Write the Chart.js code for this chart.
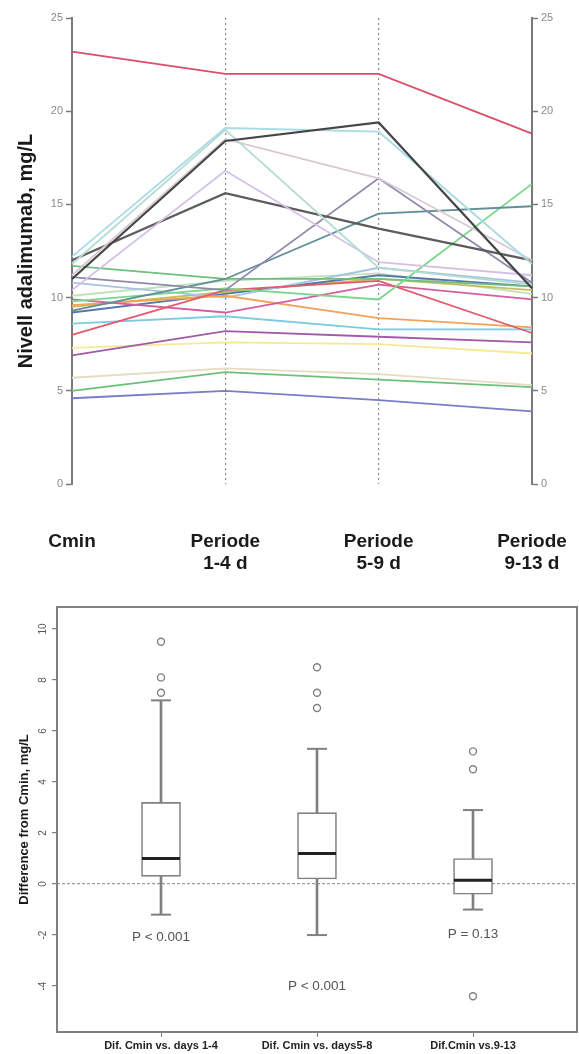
<!DOCTYPE html>
<html>
<head>
<meta charset="utf-8">
<script src="https://cdn.jsdelivr.net/npm/chart.js@4.4.1/dist/chart.umd.min.js"></script>
<style>
  body { margin: 0; background: #fff; }
  #wrap { position: relative; width: 579px; height: 1054px; }
  canvas { position: absolute; left: 0; }
  #levelChart { top: 0; }
  #diffChart { top: 590px; }
</style>
</head>
<body>
<div id="wrap">
  <canvas id="levelChart" width="579" height="590"></canvas>
  <canvas id="diffChart" width="579" height="464"></canvas>
</div>
<script>
// Top panel: adalimumab level per patient at Cmin and the three periods
const periods = [['Cmin'], ['Periode', '1-4 d'], ['Periode', '5-9 d'], ['Periode', '9-13 d']];
const patientLevels = [
    [23.2, 22.0, 22.0, 18.8],
    [11.0, 18.4, 19.4, 10.5],
    [12.2, 19.1, 18.9, 11.8],
    [11.8, 19.0, 11.6, 10.7],
    [11.2, 18.5, 16.4, 12.0],
    [10.4, 16.8, 11.9, 11.2],
    [12.0, 15.6, 13.7, 12.0],
    [11.1, 10.4, 16.4, 10.8],
    [9.3, 11.0, 14.5, 14.9],
    [9.8, 10.5, 9.9, 16.1],
    [11.7, 11.0, 11.0, 10.6],
    [8.0, 10.4, 10.9, 8.1],
    [9.9, 9.2, 10.7, 9.9],
    [9.6, 10.1, 8.9, 8.4],
    [8.6, 9.0, 8.3, 8.3],
    [6.9, 8.2, 7.9, 7.6],
    [7.3, 7.6, 7.5, 7.0],
    [5.7, 6.2, 5.9, 5.3],
    [5.0, 6.0, 5.6, 5.2],
    [4.6, 5.0, 4.5, 3.9],
    [10.8, 10.0, 11.6, 10.8],
    [9.2, 10.2, 11.2, 10.6],
    [9.5, 10.3, 11.0, 10.4],
    [10.1, 10.9, 11.3, 10.2]
];
const patientColors = ['#d94f68', '#454545', '#a9dbe6', '#b4dcd2', '#d8c8d4', '#d4bfe6',
    '#5b5b5b', '#8e89ab', '#5f8f98', '#79d68a', '#6fbf7d', '#e25a6c', '#d65d9e', '#f2a35a',
    '#7ccbe0', '#a15ba6', '#f3ea94', '#e6dcc2', '#6dc07c', '#7b7cc7', '#a8c2e2', '#5576ad',
    '#c9bd5a', '#bfe3b7'];

// Bottom panel: difference from Cmin (box plots)
const diffCategories = ['Dif. Cmin vs. days 1-4', 'Dif. Cmin vs. days5-8', 'Dif.Cmin vs.9-13'];
const q1 = [0.3, 0.2, -0.4];
const medians = [1.0, 1.2, 0.15];
const q3 = [3.2, 2.8, 1.0];
const whiskerLow = [-1.2, -2.0, -1.0];
const whiskerHigh = [7.2, 5.3, 2.9];
const outliers = [[9.5, 8.1, 7.5], [8.5, 7.5, 6.9], [5.2, 4.5, -4.4]];
const pLabels = ['P < 0.001', 'P < 0.001', 'P = 0.13'];
const pLabelY = [-2.1, -4.0, -1.95];

const axisGrey = '#7a7a7a';
const boxGrey = '#808080';

// keep edge tick labels from shrinking the plot area
const noSidePadding = s => { s.paddingLeft = 0; s.paddingRight = 0; };

// ---------- top chart ----------
const levelAxis = (pos, width) => ({
    position: pos,
    min: 0,
    max: 25,
    ticks: { stepSize: 5, color: '#8a8a8a', font: { family: 'Liberation Sans', size: 11 }, padding: 3 },
    grid: { drawOnChartArea: false, tickLength: 6, tickColor: axisGrey, tickWidth: 1.5 },
    border: { color: axisGrey, width: 2 },
    afterFit: s => { s.width = width; }
});

const yLeft = levelAxis('left', 72);
yLeft.title = {
    display: true,
    text: 'Nivell adalimumab, mg/L',
    color: '#1a1a1a',
    font: { family: 'Liberation Sans', size: 20, weight: 'bold' },
    padding: { top: 14, bottom: 0 }
};

new Chart(document.getElementById('levelChart'), {
    type: 'line',
    data: {
        labels: periods,
        datasets: patientLevels.map((vals, i) => ({
            data: vals,
            borderColor: patientColors[i],
            borderWidth: (i === 1 || i === 6) ? 2.2 : 1.8,
            pointRadius: 0,
            tension: 0,
            yAxisID: 'y'
        }))
    },
    options: {
        responsive: false,
        animation: false,
        events: [],
        layout: { padding: { top: 18 }, autoPadding: false },
        plugins: { legend: { display: false }, tooltip: { enabled: false } },
        scales: {
            x: {
                grid: {
                    color: c => (c.index === 1 || c.index === 2) ? '#8c8c8c' : 'transparent',
                    lineWidth: 1.2,
                    drawTicks: false
                },
                border: { display: false, dash: [2, 3] },
                ticks: {
                    color: '#1a1a1a',
                    font: { family: 'Liberation Sans', size: 19, weight: 'bold' },
                    padding: 46,
                    maxRotation: 0,
                    autoSkip: false
                },
                afterFit: s => { s.height = 106; noSidePadding(s); }
            },
            y: yLeft,
            y2: levelAxis('right', 47)
        }
    }
});

// ---------- bottom chart ----------
const boxData = q1.map((v, i) => ({ x: i + 1, y: [v, q3[i]] }));
const whiskerData = [];
const capData = [];
const outlierData = [];
whiskerLow.forEach((v, i) => {
    whiskerData.push({ x: i + 1, y: [q3[i], whiskerHigh[i]] });
    whiskerData.push({ x: i + 1, y: [v, q1[i]] });
    capData.push({ x: i + 1, y: whiskerHigh[i] });
    capData.push({ x: i + 1, y: v });
});
outliers.forEach((list, i) => list.forEach(v => outlierData.push({ x: i + 1, y: v })));
const medianData = medians.map((v, i) => ({ x: i + 1, y: v }));

const frameAndLabels = {
    id: 'frameAndLabels',
    afterDatasetsDraw(chart) {
        const { ctx, chartArea: a, scales } = chart;
        ctx.save();
        ctx.strokeStyle = boxGrey;
        ctx.lineWidth = 2;
        ctx.strokeRect(a.left, a.top, a.right - a.left, a.bottom - a.top);
        ctx.font = '13.5px "Liberation Sans"';
        ctx.fillStyle = '#555';
        ctx.textAlign = 'center';
        ctx.textBaseline = 'middle';
        pLabels.forEach((t, i) => {
            ctx.fillText(t, scales.x.getPixelForValue(i + 1), scales.y.getPixelForValue(pLabelY[i]));
        });
        ctx.restore();
    }
};

new Chart(document.getElementById('diffChart'), {
    type: 'bar',
    data: {
        datasets: [
            { type: 'bar', data: whiskerData, backgroundColor: boxGrey, barThickness: 2, grouped: false, order: 3 },
            {
                type: 'bar', data: boxData, backgroundColor: '#fff', borderColor: boxGrey,
                borderWidth: 1.6, borderSkipped: false, barThickness: 39, grouped: false, order: 2
            },
            {
                type: 'scatter', data: capData, pointStyle: 'line', pointRadius: 10,
                pointBorderColor: boxGrey, pointBorderWidth: 2, order: 1
            },
            {
                type: 'scatter', data: medianData, pointStyle: 'line', pointRadius: 19,
                pointBorderColor: '#222', pointBorderWidth: 3, order: 0
            },
            {
                type: 'scatter', data: outlierData, pointStyle: 'circle', pointRadius: 3.5,
                pointBackgroundColor: '#fff', pointBorderColor: boxGrey, pointBorderWidth: 1.4, order: 0
            }
        ]
    },
    options: {
        responsive: false,
        animation: false,
        events: [],
        // median markers are wide; don't let them pad the plot area
        layout: { padding: { top: 17, right: 2 }, autoPadding: false },
        plugins: { legend: { display: false }, tooltip: { enabled: false } },
        scales: {
            x: {
                type: 'linear',
                min: 1 / 3,
                max: 11 / 3,
                offset: false,
                ticks: {
                    stepSize: 1,
                    includeBounds: false,
                    callback: v => diffCategories[v - 1] || '',
                    color: '#222',
                    font: { family: 'Liberation Sans', size: 11, weight: 'bold' },
                    padding: 2,
                    maxRotation: 0,
                    autoSkip: false
                },
                grid: { drawOnChartArea: false, tickLength: 5, tickColor: boxGrey, offset: false },
                border: { display: false },
                afterFit: s => { s.height = 22; noSidePadding(s); }
            },
            y: {
                min: -5.8,
                max: 10.86,
                ticks: {
                    stepSize: 2,
                    includeBounds: false,
                    minRotation: 90,
                    maxRotation: 90,
                    crossAlign: 'center',
                    color: '#555',
                    font: { family: 'Liberation Sans', size: 10 }
                },
                grid: {
                    color: c => c.tick.value === 0 ? '#999' : 'transparent',
                    lineWidth: 1.2,
                    tickColor: boxGrey,
                    tickLength: 5
                },
                border: { display: false, dash: [3, 2] },
                title: {
                    display: true,
                    text: 'Difference from Cmin, mg/L',
                    color: '#1a1a1a',
                    font: { family: 'Liberation Sans', size: 13, weight: 'bold' },
                    padding: { top: 17, bottom: 0 }
                },
                afterFit: s => { s.width = 57; }
            }
        }
    },
    plugins: [frameAndLabels]
});
</script>
</body>
</html>
